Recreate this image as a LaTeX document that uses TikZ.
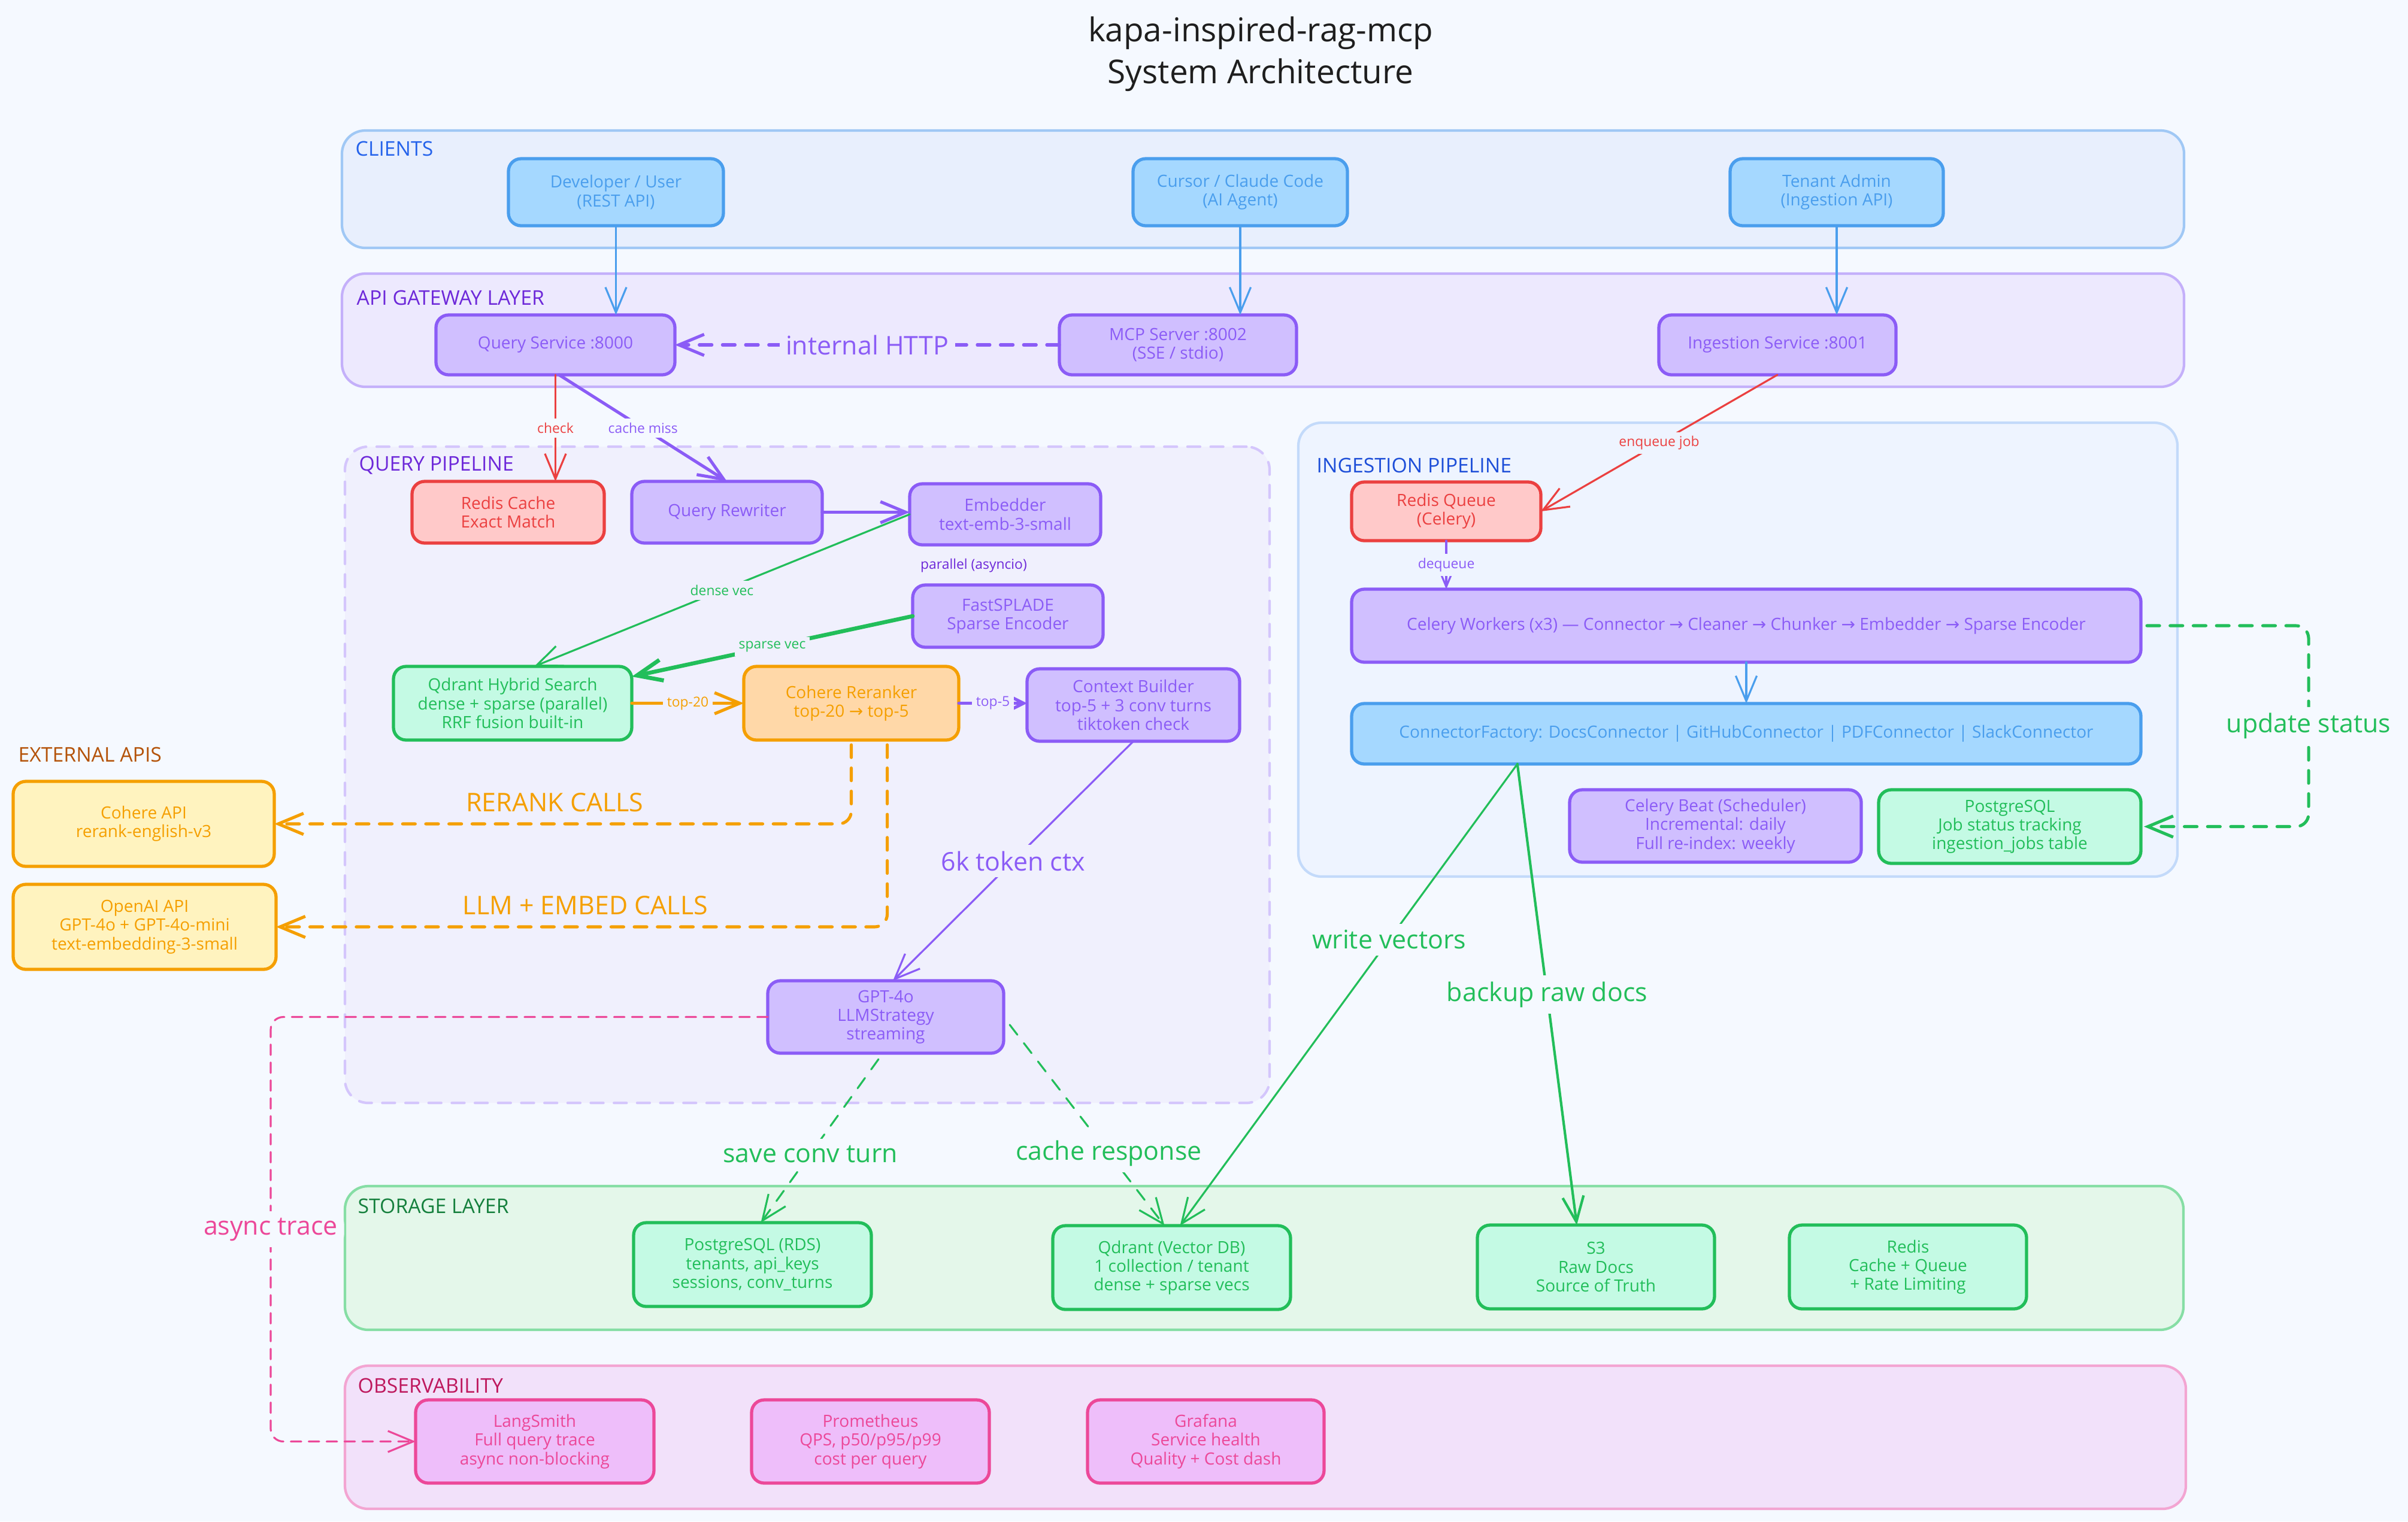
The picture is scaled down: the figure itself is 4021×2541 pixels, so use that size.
\documentclass[tikz,border=0pt]{standalone}
\usepackage{fontspec}
\setmainfont{Open Sans}
\newfontfamily\symf{DejaVu Sans}
\usetikzlibrary{arrows.meta}
\newcommand\ra{{\symf\char"2192}}
\newcommand\fnode{\fontsize{7.97pt}{8.9pt}\selectfont}
\newcommand\fsm{\fontsize{6.5pt}{7.8pt}\selectfont}
\newcommand\fbig{\fontsize{12.2pt}{14pt}\selectfont}
\newcommand\fgrp{\fontsize{9.6pt}{11pt}\selectfont}
\newcommand\ftitle{\fontsize{15.6pt}{19.9pt}\selectfont}
\definecolor{pagebg}{RGB}{245,249,255}
\definecolor{titleC}{RGB}{30,30,30}
% groups
\definecolor{gCliF}{RGB}{232,239,253}\definecolor{gCliD}{RGB}{160,200,245}\definecolor{lCli}{RGB}{37,99,235}
\definecolor{gApiF}{RGB}{237,233,254}\definecolor{gApiD}{RGB}{196,176,250}\definecolor{lApi}{RGB}{109,40,217}
\definecolor{gQryF}{RGB}{240,240,253}\definecolor{gQryD}{RGB}{212,198,252}
\definecolor{gIngF}{RGB}{238,244,255}\definecolor{gIngD}{RGB}{195,218,250}\definecolor{lIng}{RGB}{29,78,216}
\definecolor{gStoF}{RGB}{228,247,234}\definecolor{gStoD}{RGB}{134,222,165}\definecolor{lSto}{RGB}{21,128,61}
\definecolor{gObsF}{RGB}{242,225,250}\definecolor{gObsD}{RGB}{243,165,210}\definecolor{lObs}{RGB}{190,24,93}
\definecolor{lExt}{RGB}{180,83,9}
% boxes
\definecolor{bBlueF}{RGB}{165,216,255}\definecolor{cBlue}{RGB}{74,158,237}
\definecolor{bPurF}{RGB}{208,191,255}\definecolor{cPur}{RGB}{139,92,246}
\definecolor{bRedF}{RGB}{255,201,201}\definecolor{cRed}{RGB}{235,64,64}
\definecolor{bGrnF}{RGB}{196,250,228}\definecolor{cGrn}{RGB}{34,190,90}
\definecolor{bOrgF}{RGB}{255,216,168}\definecolor{cOrg}{RGB}{245,159,0}
\definecolor{bYelF}{RGB}{255,243,191}
\definecolor{bPnkF}{RGB}{238,190,250}\definecolor{cPnk}{RGB}{236,72,153}
\definecolor{lPar}{RGB}{109,40,217}
\newcommand\bx[7]{\node[#2, minimum width={(#5-#3)*0.01cm}, minimum height={(#6-#4)*0.01cm}] (#1) at ({(#3+#5)/2},{(#4+#6)/2}) {#7};}
\begin{document}
\begin{tikzpicture}[x=0.01cm,y=-0.01cm,line join=round,line cap=round,
  grp/.style={rounded corners=11pt,line width=1.2pt,inner sep=0pt,outer sep=0pt},
  box/.style={rounded corners=6pt,line width=1.5pt,align=center,font=\fnode,inner sep=2pt,outer sep=0pt},
  bluebox/.style={box,fill=bBlueF,draw=cBlue,text=cBlue},
  purbox/.style={box,fill=bPurF,draw=cPur,text=cPur},
  redbox/.style={box,fill=bRedF,draw=cRed,text=cRed},
  grnbox/.style={box,fill=bGrnF,draw=cGrn,text=cGrn},
  orgbox/.style={box,fill=bOrgF,draw=cOrg,text=cOrg},
  yelbox/.style={box,fill=bYelF,draw=cOrg,text=cOrg},
  pnkbox/.style={box,fill=bPnkF,draw=cPnk,text=cPnk},
  glabel/.style={anchor=west,font=\fgrp,inner sep=0pt},
  ahead/.style={-{Straight Barb[length=12pt,width=10pt]}},
  sahead/.style={-{Straight Barb[length=8pt,width=8pt]}},
  lwa/.style={line width=0.9pt},
  lwb/.style={line width=1.2pt},
  lwc/.style={line width=1.45pt},
  lwd/.style={line width=1.9pt},
  smlbl/.style={font=\fsm,inner sep=2pt,fill=#1},
  biglbl/.style={font=\fbig,inner sep=3pt,fill=#1},
  dsh/.style={dash pattern=on 6pt off 5pt},
]
\fill[pagebg] (0,0) rectangle (4021,2541);
\useasboundingbox (0,0) rectangle (4021,2541);

% title
\node[font=\ftitle,align=center,text=titleC] (title) at (2105,90) {kapa-inspired-rag-mcp\\System Architecture};

% groups
\bx{gclients}{grp,fill=gCliF,draw=gCliD}{571}{218}{3647}{414}{}
\bx{gapi}{grp,fill=gApiF,draw=gApiD}{571}{457}{3647}{646}{}
\bx{gquery}{grp,fill=gQryF,draw=gQryD,dsh}{576}{746}{2120}{1842}{}
\bx{ging}{grp,fill=gIngF,draw=gIngD}{2168}{706}{3636}{1464}{}
\bx{gsto}{grp,fill=gStoF,draw=gStoD}{576}{1981}{3646}{2221}{}
\bx{gobs}{grp,fill=gObsF,draw=gObsD}{576}{2281}{3650}{2520}{}

\node[glabel,text=lCli] (lclients) at (593,248) {CLIENTS};
\node[glabel,text=lApi] (lapi) at (595,497) {API GATEWAY LAYER};
\node[glabel,text=lApi] (lquery) at (599,777) {QUERY PIPELINE};
\node[glabel,text=lIng] (ling) at (2198,777) {INGESTION PIPELINE};
\node[glabel,text=lExt] (lext) at (30,1260) {EXTERNAL APIS};
\node[glabel,text=lSto] (lsto) at (597,2014) {STORAGE LAYER};
\node[glabel,text=lObs] (lobs) at (597,2314) {OBSERVABILITY};

% clients
\bx{dev}{bluebox}{849}{265}{1208}{377}{Developer / User\\(REST API)}
\bx{cur}{bluebox}{1892}{265}{2250}{377}{Cursor / Claude Code\\(AI Agent)}
\bx{ten}{bluebox}{2889}{265}{3245}{377}{Tenant Admin\\(Ingestion API)}

% gateway
\bx{qs}{purbox}{728}{526}{1127}{626}{Query Service :8000}
\bx{mcp}{purbox}{1769}{526}{2165}{626}{MCP Server :8002\\(SSE / stdio)}
\bx{ing}{purbox}{2770}{526}{3166}{626}{Ingestion Service :8001}

% query pipeline
\bx{rc}{redbox}{688}{804}{1009}{907}{Redis Cache\\Exact Match}
\bx{qr}{purbox}{1055}{804}{1373}{907}{Query Rewriter}
\bx{emb}{purbox}{1519}{808}{1838}{910}{Embedder\\text-emb-3-small}
\node[font=\fsm,text=lPar] (par) at (1626,945) {parallel (asyncio)};
\bx{fs}{purbox}{1524}{977}{1842}{1081}{FastSPLADE\\Sparse Encoder}
\bx{qh}{grnbox}{657}{1113}{1055}{1236}{Qdrant Hybrid Search\\dense + sparse (parallel)\\RRF fusion built-in}
\bx{cr}{orgbox}{1242}{1113}{1601}{1236}{Cohere Reranker\\top-20 \ra{} top-5}
\bx{cb}{purbox}{1715}{1117}{2070}{1238}{Context Builder\\top-5 + 3 conv turns\\tiktoken check}
\bx{gpt}{purbox}{1282}{1638}{1676}{1759}{GPT-4o\\LLMStrategy\\streaming}

% external
\bx{capi}{yelbox}{22}{1305}{458}{1447}{Cohere API\\rerank-english-v3}
\bx{oapi}{yelbox}{22}{1477}{461}{1619}{OpenAI API\\GPT-4o + GPT-4o-mini\\text-embedding-3-small}

% ingestion pipeline
\bx{rq}{redbox}{2257}{805}{2573}{903}{Redis Queue\\(Celery)}
\bx{cw}{purbox}{2257}{984}{3575}{1106}{Celery Workers (x3) --- Connector \ra{} Cleaner \ra{} Chunker \ra{} Embedder \ra{} Sparse Encoder}
\bx{cf}{bluebox}{2257}{1175}{3575}{1276}{ConnectorFactory: DocsConnector | GitHubConnector | PDFConnector | SlackConnector}
\bx{cbeat}{purbox}{2621}{1319}{3108}{1440}{Celery Beat (Scheduler)\\Incremental: daily\\Full re-index: weekly}
\bx{pgj}{grnbox}{3137}{1319}{3575}{1442}{PostgreSQL\\Job status tracking\\ingestion\_jobs table}

% storage
\bx{pg}{grnbox}{1058}{2042}{1455}{2182}{PostgreSQL (RDS)\\tenants, api\_keys\\sessions, conv\_turns}
\bx{qv}{grnbox}{1758}{2047}{2155}{2187}{Qdrant (Vector DB)\\1 collection / tenant\\dense + sparse vecs}
\bx{s3}{grnbox}{2467}{2046}{2863}{2186}{S3\\Raw Docs\\Source of Truth}
\bx{rds}{grnbox}{2988}{2046}{3384}{2186}{Redis\\Cache + Queue\\+ Rate Limiting}

% observability
\bx{ls}{pnkbox}{694}{2338}{1092}{2477}{LangSmith\\Full query trace\\async non-blocking}
\bx{prom}{pnkbox}{1255}{2338}{1652}{2477}{Prometheus\\QPS, p50/p95/p99\\cost per query}
\bx{graf}{pnkbox}{1816}{2338}{2211}{2477}{Grafana\\Service health\\Quality + Cost dash}

\coordinate (atx) at (452,0);
\coordinate (usx) at (3855,0);

% connectors: clients -> gateway
\draw[cBlue,lwa,ahead] (dev.south) -- (dev.south |- qs.north);
\draw[cBlue,lwa,ahead] (cur.south) -- (cur.south |- mcp.north);
\draw[cBlue,lwa,ahead] (ten.south) -- (ten.south |- ing.north);
\draw[cPur,lwc,ahead,dsh] (mcp.west) -- node[biglbl=gApiF,text=cPur]{internal HTTP} (qs.east);

% query pipeline
\draw[cRed,lwa,ahead] (qs.south) -- node[smlbl=pagebg,text=cRed]{check} (qs.south |- rc.north);
\draw[cPur,lwc,ahead] ([xshift=0.06cm]qs.south) -- node[smlbl=pagebg,text=cPur]{cache miss} (qr.north);
\draw[cPur,lwc,ahead] (qr.east) -- (qr.east -| emb.west);
\draw[cGrn,lwa,ahead] (emb.west) -- node[smlbl=gQryF,text=cGrn]{dense vec} ([xshift=0.36cm]qh.north);
\draw[cGrn,lwd,ahead] (fs.west) -- node[smlbl=gQryF,text=cGrn]{sparse vec} ([yshift=-0.17cm]qh.north east);
\draw[cOrg,lwc,ahead] (qh.east) -- node[smlbl=gQryF,text=cOrg]{top-20} (qh.east -| cr.west);
\draw[cPur,lwc,sahead] (cr.east) -- node[smlbl=gQryF,text=cPur]{top-5} (cr.east -| cb.west);
\draw[cPur,lwa,ahead] (cb.south) -- node[biglbl=gQryF,text=cPur]{6k token ctx} ([xshift=0.12cm]gpt.north);

% external calls
\draw[cOrg,lwc,ahead,dsh,rounded corners=6pt] ([yshift=-0.08cm]cr.south) |- node[pos=0.757,above=5pt,font=\fbig,text=cOrg,inner sep=0pt]{RERANK CALLS} (capi.east);
\draw[cOrg,lwc,ahead,dsh,rounded corners=6pt] ([xshift=0.6cm,yshift=-0.08cm]cr.south) |- node[pos=0.747,above=5pt,font=\fbig,text=cOrg,inner sep=0pt]{LLM + EMBED CALLS} (oapi.east);

% async trace
\draw[cPnk,lwa,ahead,dash pattern=on 5pt off 3.5pt,rounded corners=6pt] (gpt.west) -- (atx |- gpt.west) -- node[biglbl=pagebg,text=cPnk]{async trace} (atx |- ls.west) -- (ls.west);

% storage writes
\draw[cGrn,lwa,ahead,dsh] ([xshift=-0.12cm,yshift=-0.1cm]gpt.south) -- node[pos=0.58,biglbl=pagebg,text=cGrn]{save conv turn} ([xshift=0.14cm]pg.north);
\draw[cGrn,lwa,ahead,dsh] ([yshift=-0.13cm,xshift=0.1cm]gpt.east) -- node[pos=0.64,biglbl=pagebg,text=cGrn]{cache response} ([xshift=-0.12cm]qv.north);
\draw[cGrn,lwa,ahead] ([xshift=-3.82cm]cf.south) -- node[pos=0.38,biglbl=pagebg,text=cGrn]{write vectors} ([xshift=0.14cm]qv.north);
\draw[cGrn,lwb,ahead] ([xshift=-3.82cm]cf.south) -- node[pos=0.5,biglbl=pagebg,text=cGrn]{backup raw docs} ([xshift=-0.32cm]s3.north);

% ingestion
\draw[cRed,lwa,ahead] (ing.south) -- node[smlbl=gIngF,text=cRed]{enqueue job} (rq.east);
\draw[cPur,lwa,ahead] (rq.south) -- node[smlbl=gIngF,text=cPur]{dequeue} (rq.south |- cw.north);
\draw[cBlue,lwa,ahead] (cw.south) -- (cf.north);
\draw[cGrn,lwc,ahead,dsh,rounded corners=6pt] ([xshift=0.1cm]cw.east) -- (usx |- cw.east) -- node[biglbl=pagebg,text=cGrn]{update status} (usx |- pgj.east) -- ([xshift=0.05cm]pgj.east);
\end{tikzpicture}
\end{document}
